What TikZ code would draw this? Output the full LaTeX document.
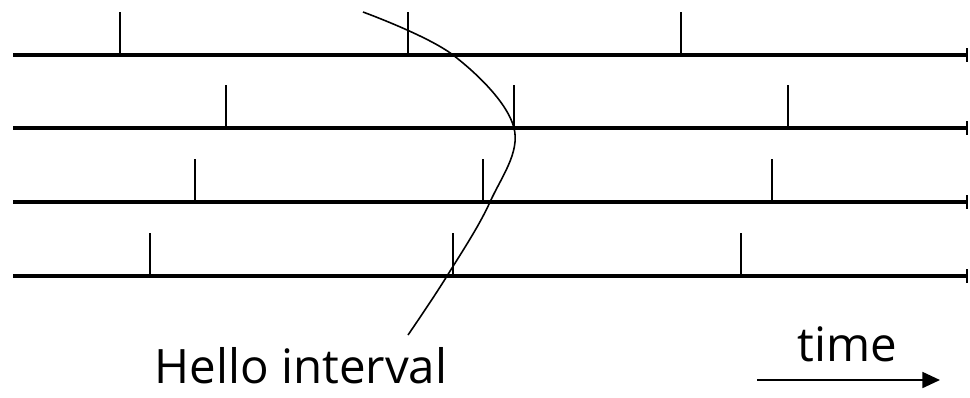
\documentclass[tikz,border=0pt]{standalone}
\usepackage{fontspec}
\setmainfont{Open Sans}
\usetikzlibrary{arrows.meta,positioning}

\begin{document}
\begin{tikzpicture}[x=0.02cm,y=-0.02cm,
 timeline/.style={line width=1.8pt,-{Bar[width=7.5pt,line width=1pt]}},
 hello/.style={line width=0.8pt},
 label/.style={font=\fontsize{27}{30}\selectfont,inner sep=0pt,anchor=base}]
\useasboundingbox (0,0) rectangle (970,397);
% one line per router, ticks = hello messages
\foreach \y/\a/\b/\c in {55/120/408/681,128/226/514/788,202/195/483/772,276/150/453/741}{
  \draw[timeline] (13,\y) -- (968,\y);
  \foreach \x in {\a,\b,\c}
    \draw[hello] (\x,\y) -- (\x,\y-43);
}
% the interval curve
\draw[line width=0.9pt] plot[smooth,tension=0.6] coordinates
  {(363,12) (453,55) (514,128) (490,202) (447,276) (408,335)};
\node[label] (interval) at (301,383) {Hello interval};
\node[label] (time) at (847,361) {time};
\coordinate (tstart) at (757,380);
\coordinate (tend) at (940,380);
\draw[line width=1.3pt,-{Triangle[length=10pt,width=9pt]}] (tstart) -- (tend);
\end{tikzpicture}
\end{document}
